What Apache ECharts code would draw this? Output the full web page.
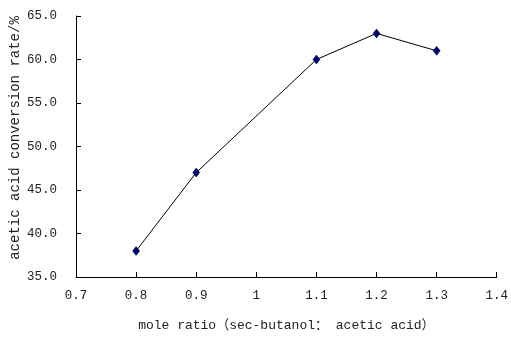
<!DOCTYPE html>
<html>
<head>
<meta charset="utf-8">
<script src="https://cdn.jsdelivr.net/npm/echarts@6/dist/echarts.min.js"></script>
<style>
  html, body { margin: 0; padding: 0; background: #fff; }
  #chart { width: 511px; height: 337px; }
</style>
</head>
<body>
<div id="chart"></div>
<script>
// Mole ratio of sec-butanol to acetic acid vs. acetic acid conversion
const moleRatios = [0.8, 0.9, 1.1, 1.2, 1.3];
const conversionRates = [38.0, 47.0, 60.0, 63.0, 61.0];
const xAxisTitle = 'mole ratio（sec-butanol： acetic acid）';
const yAxisTitle = 'acetic acid conversion rate/%';

const FONT = '"Liberation Mono", "Noto Sans CJK SC", monospace';

const chart = echarts.init(document.getElementById('chart'), null, { renderer: 'canvas' });

chart.setOption({
  animation: false,
  backgroundColor: '#ffffff',
  grid: { left: 76, right: 12, top: 16, bottom: 58, containLabel: false },
  xAxis: {
    type: 'value',
    min: 0.7,
    max: 1.4,
    interval: 0.1,
    name: xAxisTitle,
    nameLocation: 'middle',
    nameGap: 42,
    nameTextStyle: { color: '#222', fontFamily: FONT, fontSize: 13 },
    axisLine: { lineStyle: { color: '#000', width: 1 } },
    axisTick: { inside: true, length: 5, lineStyle: { color: '#000' } },
    splitLine: { show: false },
    axisLabel: {
      color: '#222', fontFamily: FONT, fontSize: 12.5, margin: 12,
      formatter: v => {
        const r = Math.round(v * 10) / 10;
        return r === 1 ? '1' : r.toFixed(1);
      }
    }
  },
  yAxis: {
    type: 'value',
    min: 35,
    max: 65,
    interval: 5,
    axisLine: { show: true, lineStyle: { color: '#000', width: 1 } },
    axisTick: { show: true, inside: true, length: 5, lineStyle: { color: '#000' } },
    splitLine: { show: false },
    axisLabel: {
      color: '#222', fontFamily: FONT, fontSize: 12.5, margin: 19,
      formatter: v => v.toFixed(1)
    }
  },
  graphic: [{
    type: 'text',
    x: 15,
    y: 138,
    rotation: Math.PI / 2,
    style: {
      text: yAxisTitle,
      fill: '#222',
      font: '14px ' + FONT,
      align: 'center',
      verticalAlign: 'middle'
    }
  }],
  series: [{
    type: 'line',
    data: moleRatios.map((x, i) => [x, conversionRates[i]]),
    symbol: 'diamond',
    symbolSize: [7, 9],
    lineStyle: { color: '#000', width: 1 },
    itemStyle: { color: '#000080', borderColor: '#000', borderWidth: 0.5 },
    emphasis: { disabled: true }
  }]
});
</script>
</body>
</html>
